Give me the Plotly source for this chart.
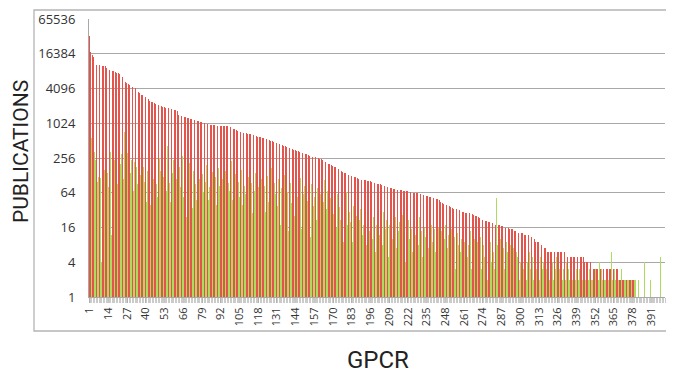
import plotly.graph_objects as go
import math

categories = list(range(1, 401))

red_publications = [
    33000, 17500, 15600, 14200, 11800, 10600, 10500, 10400, 10300, 10200, 10100, 9900, 9300, 9000, 8600, 8500, 8300, 8100, 8000, 7700,
    7500, 7300, 7200, 6500, 5900, 5400, 5100, 4900, 4700, 4600, 4300, 4200, 4100, 3900, 3600, 3400, 3200, 3100, 3000, 2950,
    2900, 2700, 2500, 2400, 2350, 2300, 2200, 2150, 2100, 2100, 2050, 1980, 1950, 1900, 1880, 1850, 1800, 1800, 1780, 1750,
    1720, 1650, 1400, 1370, 1350, 1340, 1320, 1300, 1270, 1250, 1230, 1200, 1180, 1160, 1140, 1120, 1100, 1080, 1060, 1040,
    1030, 1024, 1010, 990, 970, 960, 950, 945, 940, 935, 930, 925, 920, 915, 910, 905, 900, 890, 870, 840,
    820, 800, 780, 760, 740, 720, 710, 700, 700, 690, 680, 670, 660, 650, 640, 625, 610, 600, 595, 590,
    580, 570, 560, 540, 525, 515, 505, 495, 485, 478, 470, 465, 455, 445, 430, 420, 410, 400, 390, 380,
    372, 365, 358, 350, 343, 337, 331, 325, 318, 310, 302, 295, 288, 282, 276, 270, 265, 262, 258, 256,
    250, 243, 236, 228, 220, 212, 205, 198, 192, 186, 181, 178, 172, 165, 158, 152, 147, 142, 138, 134,
    131, 129, 127, 124, 121, 118, 115, 112, 110, 108, 107, 106, 105, 104, 103, 101, 99, 97, 95, 93,
    91, 90, 89, 88, 87, 85, 84, 82, 80, 78, 76, 75, 74, 73, 72, 72, 71, 71, 70, 70,
    69, 68, 67, 66, 65, 64, 64, 63, 63, 62, 61, 60, 59, 58, 57, 56, 55, 54, 53, 52,
    51, 50, 49, 47, 45, 43, 41, 40, 39, 38, 37, 36, 35, 34, 33, 33, 32, 32, 31, 30,
    30, 29, 29, 28, 28, 27, 27, 26, 25, 25, 24, 23, 23, 22, 22, 21, 21, 20, 20, 19,
    19, 19, 18, 18, 18, 18, 17, 17, 17, 16, 16, 16, 15, 15, 15, 14, 14, 14, 13, 13,
    13, 13, 12, 12, 12, 12, 11, 11, 10, 10, 9, 9, 9, 8, 8, 7, 7, 7, 6, 6,
    6, 6, 6, 6, 6, 6, 6, 6, 6, 6, 6, 6, 5, 5, 5, 5, 5, 5, 5, 5,
    5, 5, 5, 5, 4, 4, 4, 4, 4, 4, 3, 3, 3, 3, 3, 3, 3, 3, 3, 3,
    3, 3, 3, 3, 3, 3, 3, 3, 2, 2, 2, 2, 2, 2, 2, 2, 2, 2, 2, 2,
    0, 0, 0, 0, 0, 0, 0, 0, 0, 0, 0, 0, 0, 0, 0, 0, 0, 0, 0, 0,
]

green_publications = [
    220, 580, 850, 330, 240, 100, 120, 115, 4, 470, 160, 60, 140, 80, 330, 12, 190, 240, 150, 90,
    490, 200, 300, 110, 720, 240, 310, 170, 140, 240, 70, 220, 180, 90, 400, 130, 60, 180, 100, 45,
    150, 230, 40, 320, 110, 210, 90, 55, 260, 150, 30, 120, 180, 70, 420, 95, 45, 140, 240, 65,
    110, 40, 180, 80, 280, 55, 130, 24, 95, 210, 70, 35, 150, 90, 48, 220, 110, 28, 135, 65,
    100, 190, 48, 80, 18, 145, 62, 120, 40, 175, 85, 12, 110, 55, 150, 32, 95, 70, 230, 48,
    80, 135, 22, 100, 55, 160, 40, 85, 62, 15, 120, 48, 95, 28, 70, 140, 35, 80, 9, 110,
    55, 85, 30, 125, 44, 70, 170, 24, 95, 60, 38, 110, 18, 78, 46, 130, 30, 66, 14, 95,
    42, 75, 25, 100, 55, 34, 115, 15, 62, 85, 28, 46, 70, 11, 92, 38, 55, 22, 78, 30,
    60, 18, 45, 105, 34, 68, 12, 52, 88, 27, 42, 16, 60, 36, 22, 48, 9, 40, 66, 18,
    30, 20, 9, 38, 16, 25, 5, 22, 34, 12, 18, 28, 8, 20, 14, 30, 10, 24, 6, 18,
    26, 12, 20, 8, 30, 15, 22, 5, 18, 28, 10, 16, 24, 7, 14, 20, 9, 26, 12, 4,
    18, 22, 10, 15, 6, 20, 12, 17, 8, 24, 14, 5, 16, 11, 20, 7, 13, 18, 9, 15,
    6, 12, 16, 8, 14, 4, 10, 18, 7, 12, 5, 15, 9, 11, 3, 13, 8, 6, 10, 4,
    9, 12, 5, 8, 14, 3, 7, 10, 4, 9, 6, 11, 3, 8, 5, 12, 2, 7, 9, 4,
    6, 3, 52, 8, 4, 10, 5, 7, 3, 9, 6, 2, 8, 4, 7, 3, 6, 5, 2, 4,
    5, 3, 7, 2, 4, 6, 3, 5, 2, 4, 3, 6, 2, 5, 3, 4, 2, 3, 5, 2,
    3, 4, 2, 3, 5, 2, 3, 4, 2, 3, 2, 4, 3, 2, 3, 2, 4, 2, 3, 2,
    3, 2, 2, 3, 2, 4, 2, 3, 2, 2, 2, 3, 2, 2, 4, 3, 2, 2, 2, 3,
    2, 2, 6, 2, 3, 2, 2, 2, 4, 3, 2, 2, 2, 2, 2, 2, 2, 2, 2, 2,
    0, 2, 0, 0, 0, 4, 0, 0, 0, 2, 0, 6, 0, 0, 0, 0, 5, 0, 0, 0,
]

y_tick_values = [1, 4, 16, 64, 256, 1024, 4096, 16384, 65536]
x_tick_values = list(range(1, 392, 13))

red_plot = [v if v > 0 else None for v in red_publications]
green_plot = [v if v > 0 else None for v in green_publications]

fig = go.Figure()
fig.add_bar(x=categories, y=red_plot, marker=dict(color="#e3544c", line=dict(width=0)),
            name="red", showlegend=False)
fig.add_bar(x=categories, y=green_plot, marker=dict(color="#addb60", line=dict(width=0)),
            name="green", showlegend=False)

# The page body has an 8px default margin, so the figure is sized to the visible area.
fig.update_layout(
    width=666, height=367,
    margin=dict(l=81, r=9, t=11, b=78, autoexpand=False),
    paper_bgcolor="white", plot_bgcolor="white",
    barmode="group", bargap=0.0, bargroupgap=0,
    font=dict(family="Open Sans", color="#333333"),
    showlegend=False,
)
fig.update_yaxes(
    type="log", range=[0, math.log10(65536)], automargin=False,
    tickvals=y_tick_values, ticktext=[str(v) for v in y_tick_values],
    tickfont=dict(size=13, color="#333333"),
    showgrid=True, gridcolor="#a8a8a8", gridwidth=1,
    showline=True, linecolor="#a8a8a8", linewidth=1,
    ticks="", ticklabelstandoff=10, zeroline=False,
)
fig.update_xaxes(
    range=[0.5, 400.5], automargin=False,
    tickvals=x_tick_values, ticktext=[str(v) for v in x_tick_values],
    tickangle=-90, tickfont=dict(size=11, color="#333333"),
    showgrid=False, zeroline=False,
    showline=True, linecolor="#a8a8a8", linewidth=1,
    ticks="outside", ticklen=5, tickcolor="#a0a0a0", tickwidth=0.6,
    minor=dict(ticks="outside", ticklen=5, dtick=1, tick0=0.5, tickcolor="#a8a8a8", tickwidth=0.6, showgrid=False),
)

fig.add_shape(type="rect", xref="paper", yref="paper",
              x0=-0.0955, x1=1.0052, y0=-0.1223, y1=1.0324,
              line=dict(color="#b4b4b4", width=1.3), layer="below")

# plot area: x 81..657 (576 px), y 11..289 (278 px) in figure pixels
fig.add_annotation(text="PUBLICATIONS", xref="paper", yref="paper",
                   x=(13.0 - 81) / 576, y=(289 - 144) / 278, textangle=-90, showarrow=False,
                   font=dict(size=21, color="#222222", family="Roboto"),
                   xanchor="center", yanchor="middle", borderpad=0)
fig.add_annotation(text="GPCR", xref="paper", yref="paper",
                   x=(370 - 81) / 576, y=(289 - 352) / 278, showarrow=False,
                   font=dict(size=24, color="#222222", family="Roboto"),
                   xanchor="center", yanchor="middle", borderpad=0)

fig.write_html("out.html", config={"staticPlot": True})
